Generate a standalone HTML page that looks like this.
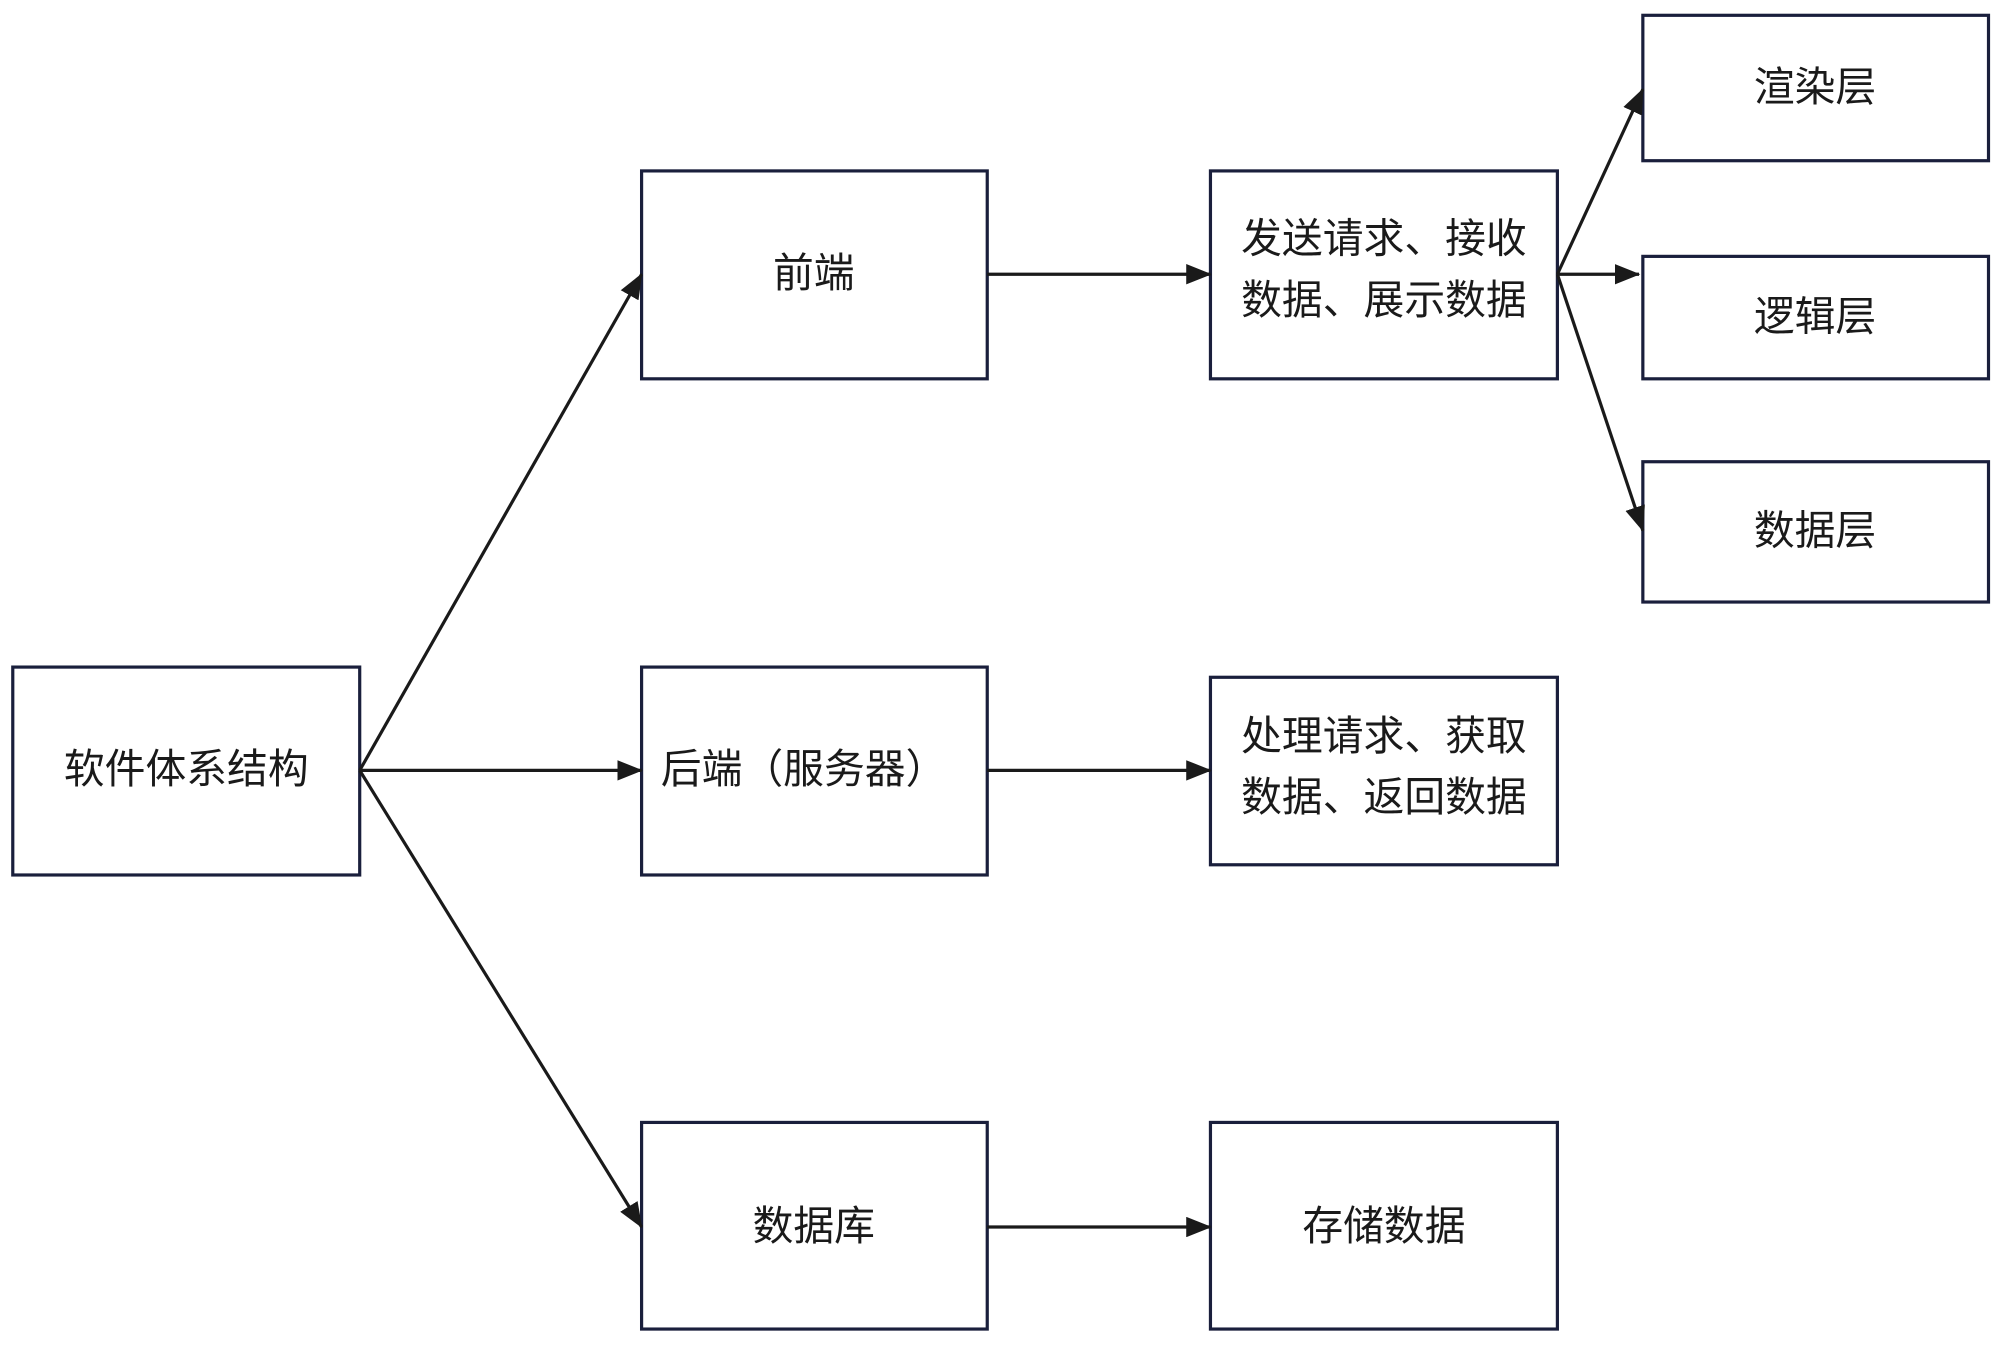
<!DOCTYPE html>
<html><head><meta charset="utf-8"><style>
html,body{margin:0;padding:0;background:#fff;}
svg{display:block;}
text{font-family:"Liberation Sans","Noto Sans CJK SC",sans-serif;font-size:32px;fill:#1a1a1a;}
</style></head><body>
<svg width="2000" height="1345" viewBox="0 0 1568 1054.5" xmlns="http://www.w3.org/2000/svg">
<defs><marker id="a" markerWidth="10" markerHeight="10" refX="9" refY="5" orient="auto" markerUnits="userSpaceOnUse" viewBox="0 0 10 10">
</marker>
<marker id="h" viewBox="0 0 20 16" refX="19" refY="8" markerWidth="20" markerHeight="16" orient="auto" markerUnits="userSpaceOnUse"><path d="M0,0 L20,8 L0,16 Z" fill="#1a1a1a"/></marker></defs>
<g fill="#fff" stroke="#1a1f3c" stroke-width="2.5">
<rect x="10" y="523" width="272" height="163"/>
<rect x="503" y="134" width="271" height="163"/>
<rect x="503" y="523" width="271" height="163"/>
<rect x="503" y="880" width="271" height="162"/>
<rect x="949" y="134" width="272" height="163"/>
<rect x="949" y="531" width="272" height="147"/>
<rect x="949" y="880" width="272" height="162"/>
<rect x="1288" y="12" width="271" height="114"/>
<rect x="1288" y="201" width="271" height="96"/>
<rect x="1288" y="362" width="271" height="110"/>
</g>
<g stroke="#1a1a1a" stroke-width="2.5" fill="none" marker-end="url(#h)">
<line x1="282" y1="604" x2="503" y2="215"/>
<line x1="282" y1="604" x2="503" y2="604"/>
<line x1="282" y1="604" x2="503" y2="962"/>
<line x1="774" y1="215" x2="949" y2="215"/>
<line x1="774" y1="604" x2="949" y2="604"/>
<line x1="774" y1="962" x2="949" y2="962"/>
<line x1="1221" y1="215" x2="1288" y2="70"/>
<line x1="1221" y1="215" x2="1285" y2="215"/>
<line x1="1221" y1="215" x2="1288" y2="416"/>
</g>
<g text-anchor="middle">
<text x="146" y="614">软件体系结构</text>
<text x="638" y="225">前端</text>
<text x="630" y="614">后端（服务器）</text>
<text x="638" y="972">数据库</text>
<text x="1085" y="198">发送请求、接收</text>
<text x="1085" y="246">数据、展示数据</text>
<text x="1085" y="588">处理请求、获取</text>
<text x="1085" y="636">数据、返回数据</text>
<text x="1085" y="972">存储数据</text>
<text x="1423" y="79">渲染层</text>
<text x="1423" y="259">逻辑层</text>
<text x="1423" y="427">数据层</text>
</g>
</svg>
</body></html>
